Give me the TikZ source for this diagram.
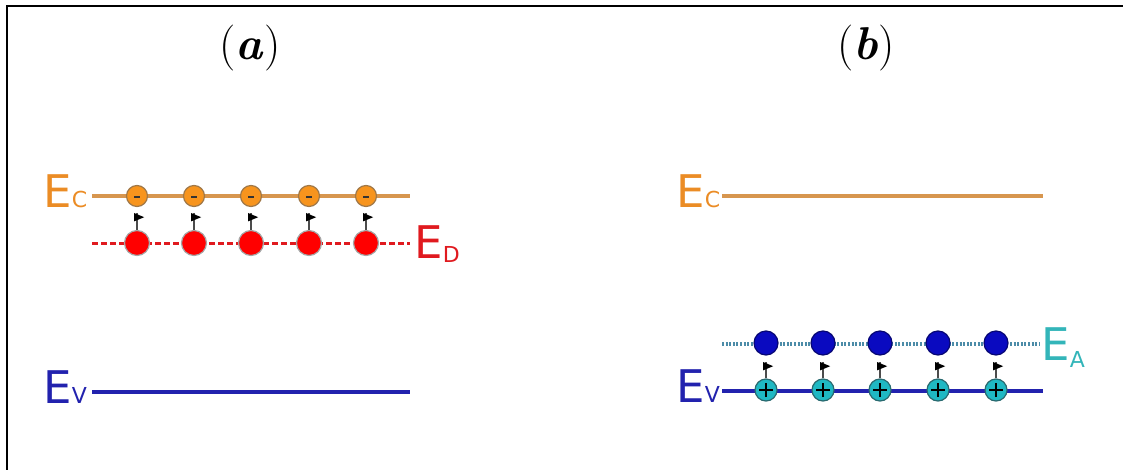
\documentclass[tikz,border=0pt]{standalone}
\usepackage{fontspec}
\newfontfamily\dejavu{DejaVu Sans}
\definecolor{eclbl}{HTML}{EB8C25}
\definecolor{ecline}{HTML}{D7964F}
\definecolor{edcol}{HTML}{E01A1F}
\definecolor{evcol}{HTML}{2222AE}
\definecolor{eacol}{HTML}{33B5B9}
\definecolor{eadot}{HTML}{4C8CA8}
\definecolor{orfill}{HTML}{F7941D}
\definecolor{orline}{HTML}{A07848}
\definecolor{tlfill}{HTML}{1FB8C3}
\definecolor{tlline}{HTML}{2A6A70}
\definecolor{blfill}{HTML}{0A0AC0}
\tikzset{
  lbl/.style={inner sep=0, anchor=base west, font=\dejavu\fontsize{22.5}{22.5}\selectfont},
  ttl/.style={inner sep=0, font=\fontsize{23}{23}\selectfont},
  ecband/.style={draw=ecline, line width=1.7pt},
  evband/.style={draw=evcol, line width=1.7pt},
  edband/.style={draw=edcol, line width=1.5pt, dash pattern=on 3pt off 1.5pt},
  eaband/.style={draw=eadot, line width=1.6pt, dash pattern=on 1pt off 0.8pt},
  elec/.style={circle, fill=orfill, draw=orline, line width=0.6pt, minimum size=10.5pt, inner sep=0},
  donor/.style={circle, fill=red, draw=gray!70, line width=0.6pt, minimum size=12.5pt, inner sep=0},
  accep/.style={circle, fill=blfill, draw=blfill!60!black, line width=0.6pt, minimum size=12pt, inner sep=0},
  hole/.style={circle, fill=tlfill, draw=tlline, line width=0.6pt, minimum size=11pt, inner sep=0},
  pole/.style={draw=gray!60!black, line width=0.7pt},
  flagtip/.style={fill=black},
}
\newcommand{\subs}[2][0pt]{\raisebox{#1}{\fontsize{11}{11}\selectfont #2}}
\begin{document}
\begin{tikzpicture}[x=0.5pt,y=-0.5pt]
\useasboundingbox (0,0) rectangle (1123,470);
\draw[line width=1.3pt] (7,470) -- (7,6) -- (1123,6);

% titles
\node[ttl] (ta) at (250,48) {(\textbf{\textit{a}})};
\node[ttl] (tb) at (866,48) {(\textbf{\textit{b}})};

% ---------- panel (a) ----------
\node[lbl, text=eclbl] (ecA) at (43,208) {E\subs{C}};
\node[lbl, text=edcol] (edA) at (414,258) {E\subs[-2pt]{D}};
\node[lbl, text=evcol] (evA) at (43,403) {E\subs{V}};
\coordinate (ecA1) at (92,196); \coordinate (ecA2) at (410,196);
\coordinate (edA1) at (92,243); \coordinate (edA2) at (410,243);
\coordinate (evA1) at (92,392); \coordinate (evA2) at (410,392);
\draw[ecband] (ecA1) -- (ecA2);
\draw[edband] (edA1) -- (edA2);
\draw[evband] (evA1) -- (evA2);
\foreach \x [count=\i] in {137,194,251,309,366}{
  \node[donor] (d\i) at (\x,243) {};
  \node[elec] (e\i) at (\x,196) {};
  \draw[line width=1pt, black!80] ([xshift=-1.5pt,yshift=-0.7pt]e\i.center) -- ([xshift=1.5pt,yshift=-0.7pt]e\i.center);
  \coordinate (ftA\i) at (\x,213);
  \draw[pole] (d\i.north) -- (ftA\i);
  \fill[flagtip] ([xshift=-1.5pt]ftA\i) -- ([xshift=3.6pt,yshift=-2.1pt]ftA\i) -- ([xshift=-1.5pt,yshift=-4.2pt]ftA\i) -- cycle;
}

% ---------- panel (b) ----------
\node[lbl, text=eclbl] (ecB) at (676,208) {E\subs{C}};
\node[lbl, text=eacol] (eaB) at (1041,360) {E\subs[-3.5pt]{A}};
\node[lbl, text=evcol] (evB) at (676,402) {E\subs{V}};
\coordinate (ecB1) at (722,196); \coordinate (ecB2) at (1043,196);
\coordinate (eaB1) at (722,344); \coordinate (eaB2) at (1040,344);
\coordinate (evB1) at (722,391); \coordinate (evB2) at (1043,391);
\draw[ecband] (ecB1) -- (ecB2);
\draw[eaband] (eaB1) -- (eaB2);
\draw[evband] (evB1) -- (evB2);
\foreach \x [count=\i] in {766,823,880,938,996}{
  \node[accep] (a\i) at (\x,343) {};
  \node[hole] (h\i) at (\x,390) {};
  \draw[line width=0.8pt, black] ([xshift=-3.5pt]h\i.center) -- ([xshift=3.5pt]h\i.center);
  \draw[line width=0.8pt, black] ([yshift=-3.5pt]h\i.center) -- ([yshift=3.5pt]h\i.center);
  \coordinate (ftB\i) at (\x,362);
  \draw[pole] (h\i.north) -- (ftB\i);
  \fill[flagtip] ([xshift=-1.5pt]ftB\i) -- ([xshift=3.6pt,yshift=-2.1pt]ftB\i) -- ([xshift=-1.5pt,yshift=-4.2pt]ftB\i) -- cycle;
}
\end{tikzpicture}
\end{document}
